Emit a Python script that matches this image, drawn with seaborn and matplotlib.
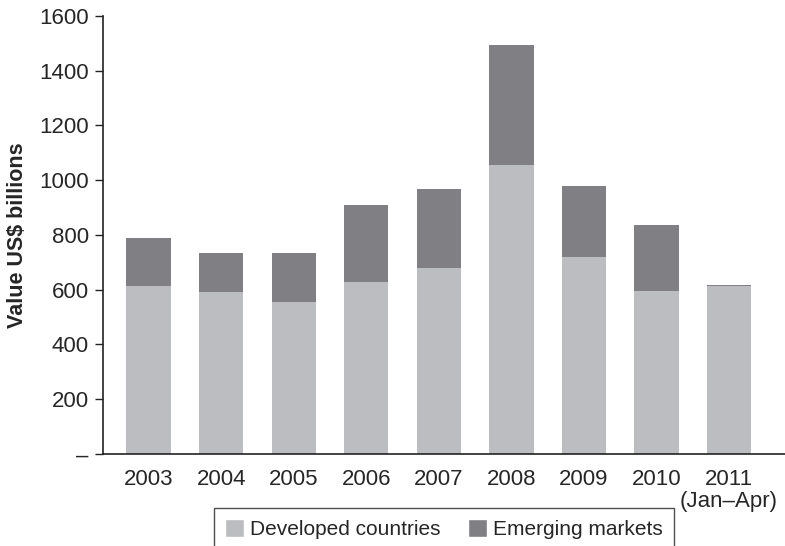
import matplotlib
matplotlib.use("Agg")
import matplotlib.pyplot as plt
import seaborn as sns
import pandas as pd
from matplotlib.patches import Patch

years = ["2003", "2004", "2005", "2006", "2007", "2008", "2009", "2010", "2011\n(Jan\u2013Apr)"]
developed = [614, 592, 555, 628, 679, 1056, 720, 595, 612]
emerging = [175, 142, 179, 282, 289, 438, 259, 242, 5]

light = "#bcbdc0"
dark = "#808084"

sns.set_theme(style="white")
plt.rcParams['font.family'] = ['Liberation Sans', 'DejaVu Sans']

df = pd.DataFrame({"year": years, "developed": developed, "emerging": emerging})

fig = plt.figure(figsize=(7.85, 5.46), dpi=100)
ax = fig.add_axes([0.131, 0.1685, 0.869, 0.8025])

sns.barplot(data=df, x="year", y="developed", color=light, width=0.61,
            saturation=1, ax=ax, linewidth=0)
sns.barplot(data=df, x="year", y="emerging", color=dark, width=0.61,
            saturation=1, ax=ax, linewidth=0, bottom=df["developed"])

ax.set_ylim(0, 1600)
ax.set_xlim(-0.63, 8.77)
ax.set_yticks(range(0, 1601, 200))
ax.set_yticklabels(["\u2013"] + [str(v) for v in range(200, 1601, 200)])
ax.set_xlabel("")
ax.set_ylabel("Value US$ billions", fontsize=15.5, fontweight="bold", labelpad=8)
ax.tick_params(axis="y", which="both", left=True, length=6, width=1, color="#222222",
               labelsize=16, pad=4)
ax.tick_params(axis="x", bottom=False, labelsize=16, pad=4.5)
for t in ax.get_xticklabels():
    t.set_verticalalignment("top")
    t.set_linespacing(1.1)
sns.despine(ax=ax, top=True, right=True)
for s in ["left", "bottom"]:
    ax.spines[s].set_color("#222222")
    ax.spines[s].set_linewidth(1.2)

handles = [Patch(facecolor=light, label="Developed countries"),
           Patch(facecolor=dark, label="Emerging markets")]
leg = fig.legend(handles=handles, loc="upper center", bbox_to_anchor=(444/785, 1 - 508/546),
                 ncol=2, frameon=True, fancybox=False, edgecolor="#222222",
                 fontsize=15, handlelength=0.9, handleheight=0.9, handletextpad=0.3,
                 columnspacing=1.3, borderpad=0.55, borderaxespad=0)
leg.get_frame().set_linewidth(1.0)

fig.savefig("out.png", dpi=100)
